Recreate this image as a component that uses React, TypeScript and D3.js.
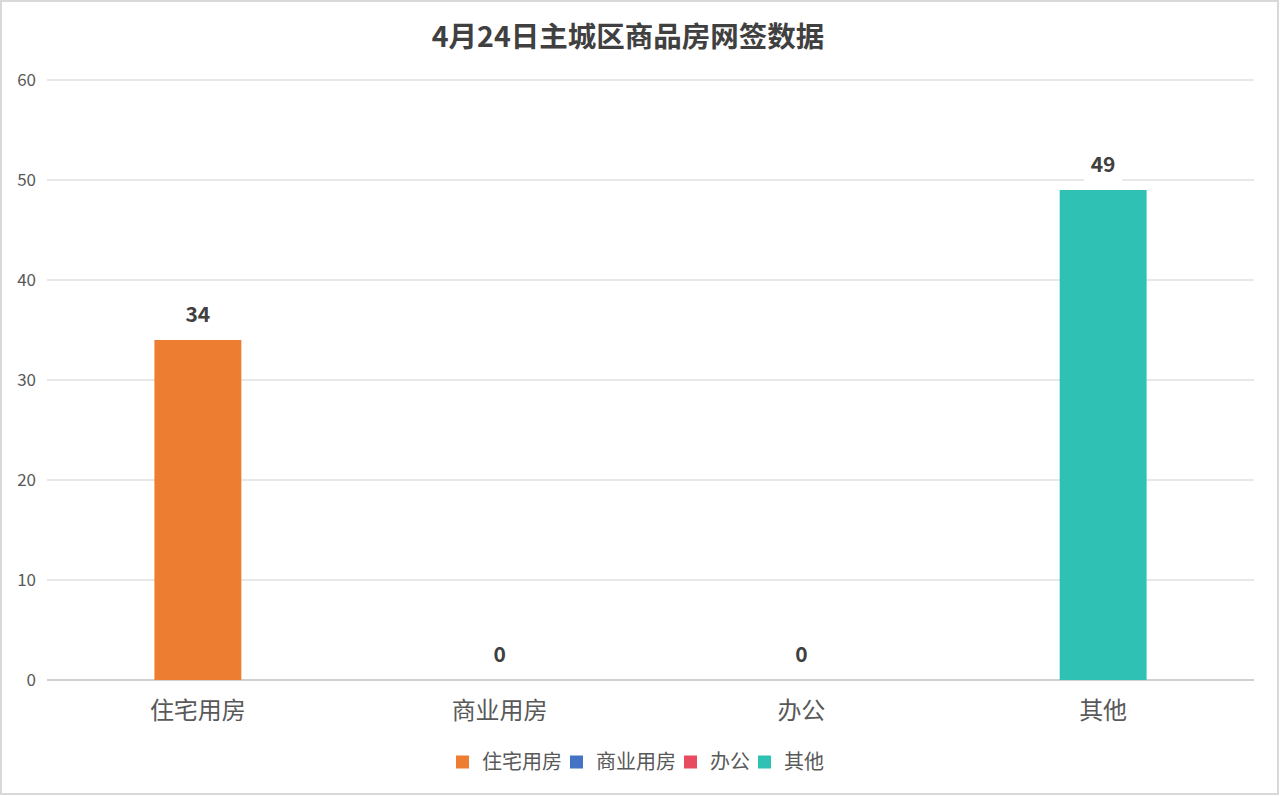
import * as d3 from "d3";

const categories = ["住宅用房", "商业用房", "办公", "其他"];
const values = [34, 0, 0, 49];
const colors = ["#ED7D31", "#4472C4", "#E84A5F", "#2EC1B4"];
const yTicks = [0, 10, 20, 30, 40, 50, 60];
const title = "4月24日主城区商品房网签数据";

const W = 1280;
const H = 796;
const margin = { top: 80, right: 26, bottom: 116, left: 47 };
const FONT = "'Noto Sans CJK SC', 'Noto Sans', sans-serif";

export default function App() {
  const x = d3
    .scaleBand<string>()
    .domain(categories)
    .range([margin.left, W - margin.right])
    .padding(0);
  const y = d3
    .scaleLinear()
    .domain([0, 60])
    .range([H - margin.bottom, margin.top]);
  const barW = x.bandwidth() * 0.288;

  // legend layout
  const sw = 13;
  const fs = 20;
  const items = categories.map((c) => ({ c, w: sw + 13 + c.length * fs }));
  const legendW = d3.sum(items, (d) => d.w) + (items.length - 1) * 8;
  let lx = W / 2 - legendW / 2;
  const legendPos = items.map((d) => {
    const p = lx;
    lx += d.w + 8;
    return p;
  });

  return (
    <>
      <style>{`body{margin:0;background:#fff}`}</style>
      <svg width={W} height={H} style={{ display: "block", fontFamily: FONT }}>
        <rect x={1} y={1} width={W - 3} height={H - 3} fill="#fff" stroke="#d9d9d9" strokeWidth={2} />
        <text
          x={628}
          y={47}
          textAnchor="middle"
          fontSize={28.5}
          fontWeight={600}
          fill="#404040"
        >
          {title}
        </text>

        {yTicks.map((t) => (
          <g key={t}>
            <line
              x1={margin.left}
              x2={W - margin.right}
              y1={y(t)}
              y2={y(t)}
              stroke={t === 0 ? "#d0d0d0" : "#e0e0e0"}
              strokeWidth={t === 0 ? 2 : 1.5}
            />
            <text
              x={36}
              y={y(t)}
              dy="0.35em"
              textAnchor="end"
              fontSize={17}
              fill="#595959"
            >
              {t}
            </text>
          </g>
        ))}

        {categories.map((c, i) => {
          const cx = (x(c) ?? 0) + x.bandwidth() / 2;
          const top = y(values[i]);
          return (
            <g key={c}>
              <rect
                x={cx - barW / 2}
                y={top}
                width={barW}
                height={y(0) - top}
                fill={colors[i]}
              />
              {values[i] > 0 && (
                <rect x={cx - 19} y={top - 42} width={38} height={34} fill="#fff" />
              )}
              <text
                x={cx}
                y={top - 18}
                textAnchor="middle"
                fontSize={21}
                fontWeight="bold"
                fill="#404040"
              >
                {values[i]}
              </text>
              <text
                x={cx}
                y={y(0) + 39}
                textAnchor="middle"
                fontSize={24}
                fill="#595959"
              >
                {c}
              </text>
            </g>
          );
        })}

        {items.map((d, i) => (
          <g key={d.c} transform={`translate(${legendPos[i]},762)`}>
            <rect x={0} y={-sw / 2} width={sw} height={sw} fill={colors[i]} />
            <text x={sw + 13} y={0} dy="0.35em" fontSize={fs} fill="#595959">
              {d.c}
            </text>
          </g>
        ))}
      </svg>
    </>
  );
}
